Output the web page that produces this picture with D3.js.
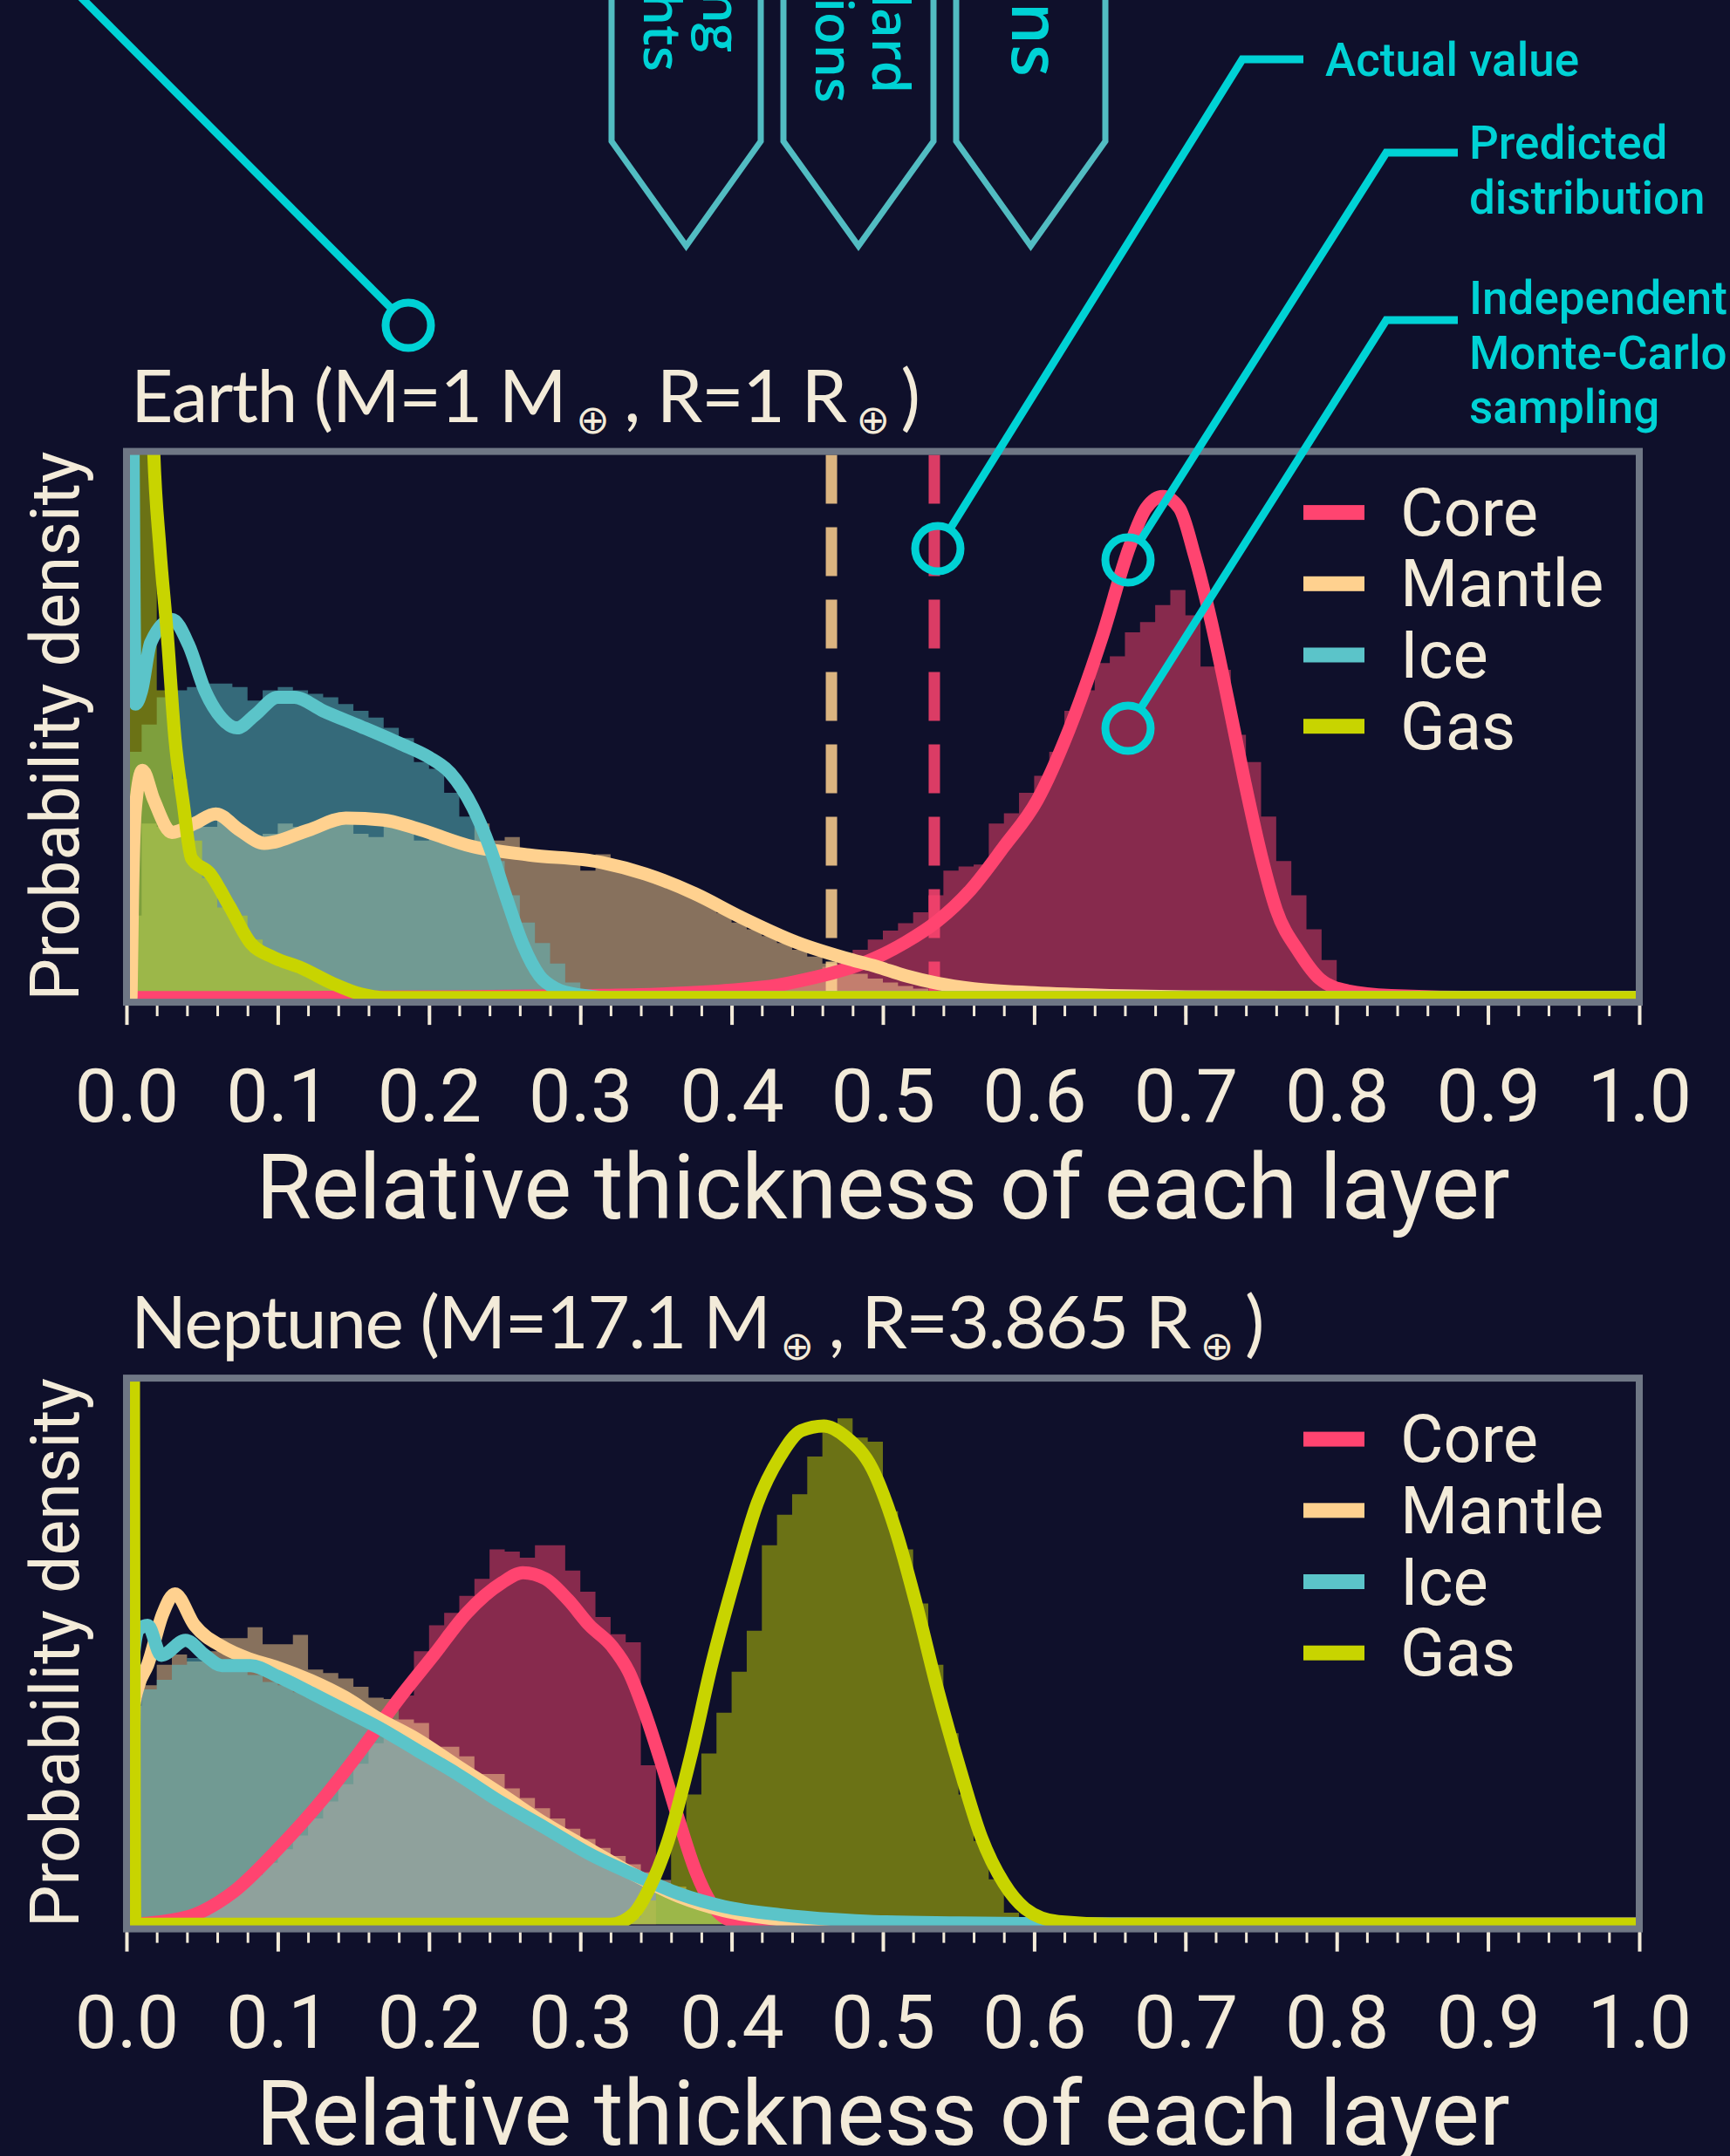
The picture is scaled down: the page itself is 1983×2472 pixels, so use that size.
<!DOCTYPE html>
<html>
<head>
<meta charset="utf-8">
<script src="https://cdnjs.cloudflare.com/ajax/libs/d3/7.8.5/d3.min.js"></script>
<style>
  html, body { margin: 0; padding: 0; background: #0f102b; }
  svg { display: block; }
</style>
</head>
<body>
<div id="chart"></div>
<script>
// ---- data --------------------------------------------------------------
var layers = ['Core', 'Mantle', 'Ice', 'Gas'];
var layerColors = ['#ff4470', '#ffd18f', '#5bc4c9', '#c8d400'];
var xTickValues = [0, 0.1, 0.2, 0.3, 0.4, 0.5, 0.6, 0.7, 0.8, 0.9, 1.0];
var binWidth = 0.01;

var planetNames = ['Earth', 'Neptune'];
var planetMass = ['1', '17.1'];
var planetRadius = ['1', '3.865'];

// actual values (dashed), Earth only: [core, mantle]
var earthActual = [0.534, 0.466];

// histograms: first bin start + bin heights
var earthCoreStart = 0.30;
var earthCoreHist = [0.02, 0.03, 0.03, 0.04, 0.05, 0.05, 0.06, 0.07, 0.08, 0.09,
  0.10, 0.13, 0.17, 0.22, 0.28, 0.36, 0.45, 0.58, 0.70, 0.85,
  0.98, 1.09, 1.25, 1.50, 1.86, 1.92, 1.95, 2.55, 2.70, 3.00,
  3.25, 3.60, 4.20, 4.50, 4.90, 5.00, 5.35, 5.50, 5.75, 5.97,
  5.60, 4.85, 4.80, 3.85, 3.45, 2.65, 2.00, 1.50, 1.00, 0.55,
  0.15, 0.05];
var earthMantleStart = 0.0;
var earthMantleHist = [1.2, 2.55, 2.5, 2.45, 2.55, 2.5, 2.6, 2.45, 2.3, 2.4,
  2.55, 2.5, 2.55, 2.6, 2.55, 2.4, 2.35, 2.55, 2.5, 2.3,
  2.4, 2.35, 2.3, 2.55, 2.3, 2.35, 2.1, 2.15, 2.1, 2.05,
  1.86, 2.1, 1.95, 1.85, 1.8, 1.7, 1.6, 1.5, 1.38, 1.24,
  1.1, 1.0, 0.9, 0.8, 0.7, 0.6, 0.5, 0.42, 0.35, 0.28,
  0.22, 0.17, 0.13, 0.1, 0.07, 0.05, 0.04, 0.03, 0.02, 0.01];
var earthIceStart = 0.0;
var earthIceHist = [3.6, 4.0, 4.4, 4.5, 4.55, 4.6, 4.6, 4.55, 4.35, 4.5,
  4.55, 4.5, 4.45, 4.4, 4.3, 4.2, 4.1, 3.95, 3.8, 3.45,
  3.35, 3.0, 2.65, 2.5, 2.0, 1.5, 1.1, 0.8, 0.5, 0.22, 0.05];
var earthGasStart = 0.0;
var earthGasHist = [9, 9, 4.5, 3.2, 2.3, 1.75, 1.32, 1.2, 0.85, 0.6,
  0.45, 0.38, 0.3, 0.22, 0.15, 0.08, 0.04, 0.02];

var neptuneCoreStart = 0.01;
var neptuneCoreHist = [0.02, 0.05, 0.1, 0.18, 0.28, 0.4, 0.55, 0.72, 0.9, 1.1,
  1.3, 1.55, 1.8, 2.05, 2.35, 2.65, 3.0, 3.35, 4.0, 4.38,
  4.56, 4.81, 5.06, 5.49, 5.46, 5.37, 5.55, 5.55, 5.18, 4.87,
  4.5, 4.25, 4.13, 2.33];
var neptuneMantleStart = 0.0;
var neptuneMantleHist = [3.2, 3.5, 3.8, 3.95, 3.85, 4.0, 4.19, 4.19, 4.35, 4.1,
  4.1, 4.24, 3.73, 3.68, 3.6, 3.48, 3.32, 3.3, 3.0, 2.95,
  2.6, 2.6, 2.46, 2.2, 2.2, 1.99, 1.85, 1.7, 1.55, 1.4,
  1.25, 1.12, 1.0, 0.88, 0.76, 0.65, 0.55, 0.45, 0.37, 0.3,
  0.24, 0.18, 0.14, 0.1, 0.07, 0.05, 0.03, 0.02, 0.01];
var neptuneIceStart = 0.0;
var neptuneIceHist = [3.3, 3.44, 3.58, 3.8, 3.9, 3.85, 3.75, 3.7, 3.65, 3.55,
  3.5, 3.4, 3.3, 3.2, 3.1, 3.0, 2.9, 2.75, 2.6, 2.5,
  2.4, 2.25, 2.1, 1.95, 1.85, 1.7, 1.6, 1.45, 1.35, 1.2,
  1.1, 0.98, 0.88, 0.78, 0.68, 0.6, 0.5, 0.43, 0.36, 0.3,
  0.25, 0.2, 0.17, 0.14, 0.12, 0.1, 0.08, 0.07, 0.06, 0.05,
  0.04, 0.035, 0.03, 0.025, 0.02, 0.02, 0.015, 0.01, 0.01];
var neptuneGasStart = 0.33;
var neptuneGasHist = [0.1, 0.35, 0.6, 1.34, 1.9, 2.5, 3.1, 3.7, 4.3, 5.55,
  6.0, 6.3, 6.85, 7.29, 7.41, 7.13, 7.07, 6.05, 5.49, 4.7,
  3.8, 2.8, 1.9, 1.22, 0.66, 0.17, 0.03];

// predicted densities [x, density]
var earthCoreLine = [[0.005, 0], [0.1, 0], [0.2, 0.01], [0.3, 0.03], [0.35, 0.05], [0.4, 0.11],
  [0.43, 0.18], [0.45, 0.27], [0.47, 0.38], [0.483, 0.47], [0.495, 0.58], [0.515, 0.81],
  [0.536, 1.12], [0.558, 1.58], [0.58, 2.21], [0.602, 2.89], [0.623, 3.92], [0.645, 5.29],
  [0.663, 6.6], [0.674, 7.17], [0.685, 7.34], [0.696, 7.17], [0.706, 6.48], [0.717, 5.51],
  [0.728, 4.37], [0.739, 3.18], [0.75, 2.09], [0.76, 1.29], [0.775, 0.67], [0.789, 0.27],
  [0.807, 0.1], [0.836, 0.03], [0.9, 0], [1.0, 0]];
var earthMantleLine = [[0.003, 0], [0.004, 1.5], [0.006, 2.8], [0.0106, 3.33], [0.018, 2.9],
  [0.03, 2.42], [0.045, 2.55], [0.059, 2.69], [0.075, 2.45], [0.091, 2.26], [0.12, 2.45],
  [0.145, 2.63], [0.17, 2.6], [0.19, 2.49], [0.229, 2.21], [0.266, 2.09], [0.314, 1.98],
  [0.343, 1.81], [0.376, 1.52], [0.406, 1.18], [0.443, 0.81], [0.48, 0.55], [0.495, 0.46],
  [0.515, 0.32], [0.536, 0.21], [0.56, 0.13], [0.6, 0.07], [0.65, 0.03], [0.7, 0.01],
  [0.8, 0], [1.0, 0]];
var earthIceLine = [[0.004, 9.5], [0.006, 4.3], [0.01, 4.5], [0.016, 5.2], [0.03, 5.54],
  [0.041, 5.17], [0.052, 4.49], [0.063, 4.09], [0.073, 3.95], [0.085, 4.14], [0.1, 4.4],
  [0.111, 4.4], [0.13, 4.2], [0.155, 3.97], [0.181, 3.72], [0.2, 3.52], [0.214, 3.29],
  [0.229, 2.78], [0.24, 2.21], [0.251, 1.47], [0.262, 0.78], [0.273, 0.32], [0.284, 0.13],
  [0.299, 0.04], [0.321, 0], [1.0, 0]];
var earthGasLine = [[0.012, 14], [0.018, 8], [0.022, 6.6], [0.027, 5.3], [0.032, 3.8],
  [0.0375, 2.85], [0.043, 2.04], [0.055, 1.82], [0.068, 1.34], [0.082, 0.8], [0.097, 0.59],
  [0.116, 0.43], [0.136, 0.21], [0.155, 0.05], [0.17, 0], [1.0, 0]];

var neptuneCoreLine = [[0.004, 0], [0.02, 0.03], [0.045, 0.14], [0.071, 0.48], [0.1, 1.1],
  [0.13, 1.84], [0.155, 2.55], [0.181, 3.33], [0.203, 3.94], [0.225, 4.56], [0.248, 5.0],
  [0.262, 5.15], [0.277, 5.06], [0.292, 4.75], [0.306, 4.38], [0.321, 4.07], [0.332, 3.7],
  [0.343, 3.08], [0.354, 2.33], [0.365, 1.53], [0.376, 0.79], [0.387, 0.29], [0.402, 0.04],
  [0.424, 0], [1.0, 0]];
var neptuneMantleLine = [[0.004, 0], [0.005, 3.2], [0.008, 3.5], [0.014, 3.8], [0.024, 4.55],
  [0.032, 4.84], [0.045, 4.38], [0.063, 4.07], [0.082, 3.88], [0.1, 3.76], [0.122, 3.57],
  [0.144, 3.33], [0.166, 3.02], [0.192, 2.71], [0.218, 2.33], [0.248, 1.9], [0.277, 1.47],
  [0.306, 1.1], [0.336, 0.72], [0.365, 0.41], [0.395, 0.2], [0.432, 0.07], [0.468, 0.01],
  [0.52, 0], [1.0, 0]];
var neptuneIceLine = [[0.004, 0], [0.005, 4.0], [0.008, 4.32], [0.014, 4.38], [0.023, 3.94],
  [0.039, 4.16], [0.052, 3.94], [0.063, 3.79], [0.082, 3.79], [0.1, 3.63], [0.122, 3.39],
  [0.144, 3.14], [0.166, 2.89], [0.192, 2.55], [0.218, 2.21], [0.248, 1.78], [0.277, 1.41],
  [0.306, 1.03], [0.336, 0.72], [0.365, 0.45], [0.395, 0.26], [0.432, 0.14], [0.468, 0.07],
  [0.494, 0.04], [0.55, 0.02], [0.62, 0.005], [0.7, 0], [1.0, 0]];
var neptuneGasLine = [[0.0045, 9.5], [0.0055, 0], [0.32, 0], [0.335, 0.15], [0.345, 0.5],
  [0.358, 1.22], [0.373, 2.46], [0.387, 3.82], [0.402, 5.06], [0.417, 6.17], [0.432, 6.85],
  [0.446, 7.23], [0.461, 7.3], [0.476, 7.13], [0.493, 6.67], [0.508, 5.8], [0.522, 4.69],
  [0.536, 3.45], [0.551, 2.27], [0.565, 1.28], [0.58, 0.6], [0.594, 0.23], [0.616, 0.04],
  [0.656, 0], [1.0, 0]];

// ---- layout -------------------------------------------------------------
var W = 1983, H = 2472;
var bg = '#0f102b';
var cream = '#f3ebd9';
var frameColor = '#6f7785';
var cyan = '#00d2d5';
var boxColor = '#52bcc2';

var svg = d3.select('#chart').append('svg')
  .attr('width', W)
  .attr('height', H)

svg.append('rect')
  .attr('width', W)
  .attr('height', H)
  .attr('fill', bg)

var x = d3.scaleLinear().domain([0, 1]).range([145, 1879]);

function histPoints(start, values) {
  var pts = values.map(function(v, i) { return [start + i * binWidth, v]; });
  pts.push([start + values.length * binWidth, values[values.length - 1]]);
  return pts;
}

function drawPanel(idx, top, hists, lines, actual) {
  var zeroY = top + 626.2;
  var y = d3.scaleLinear().domain([0, 8]).range([zeroY, top]);
  var frameH = 631.5;
  var g = svg.append('g');

  g.append('clipPath').attr('id', 'clip' + idx)
    .append('rect')
    .attr('x', x(0)).attr('y', top)
    .attr('width', x(1) - x(0)).attr('height', frameH);

  var plot = g.append('g').attr('clip-path', 'url(#clip' + idx + ')');

  var area = d3.area()
    .x(function(d) { return x(d[0]); })
    .y0(zeroY)
    .y1(function(d) { return y(d[1]); })
    .curve(d3.curveStepAfter);

  hists.forEach(function(h, i) {
    plot.append('path')
      .attr('d', area(histPoints(h[0], h[1])))
      .attr('fill', layerColors[i])
      .attr('fill-opacity', 0.5);
  });

  if (actual) {
    actual.forEach(function(v, i) {
      plot.append('line')
        .attr('x1', x(v)).attr('x2', x(v))
        .attr('y1', top + 4).attr('y2', zeroY)
        .attr('stroke', layerColors[i])
        .attr('stroke-opacity', 0.85)
        .attr('stroke-width', 13)
        .attr('stroke-dasharray', '56,27');
    });
  }

  var line = d3.line()
    .x(function(d) { return x(d[0]); })
    .y(function(d) { return y(d[1]); })
    .curve(d3.curveMonotoneX);

  lines.forEach(function(l, i) {
    plot.append('path')
      .attr('d', line(l))
      .attr('fill', 'none')
      .attr('stroke', layerColors[i])
      .attr('stroke-width', 15)
      .attr('stroke-linejoin', 'round')
      .attr('stroke-linecap', 'round');
  });

  // frame
  g.append('rect')
    .attr('x', x(0)).attr('y', top)
    .attr('width', x(1) - x(0)).attr('height', frameH)
    .attr('fill', 'none')
    .attr('stroke', frameColor)
    .attr('stroke-width', 8);

  // axis (minor ticks first, no labels)
  var axisY = top + frameH + 4;
  var minor = g.append('g')
    .attr('transform', 'translate(0,' + axisY + ')')
    .call(d3.axisBottom(x).tickValues(d3.range(0, 1.001, 0.02)).tickSize(12).tickFormat(''));
  minor.select('.domain').remove();
  minor.selectAll('text').remove();
  minor.selectAll('line').attr('stroke', cream).attr('stroke-width', 3);

  var major = g.append('g')
    .attr('transform', 'translate(0,' + axisY + ')')
    .call(d3.axisBottom(x).tickValues(xTickValues).tickSize(22).tickFormat(d3.format('.1f')));
  major.select('.domain').remove();
  major.selectAll('line').attr('stroke', cream).attr('stroke-width', 4);
  major.selectAll('text')
    .attr('y', 1286 - 1153.1)
    .attr('dy', null)
    .attr('fill', cream)
    .attr('font-family', 'Roboto, sans-serif')
    .attr('font-size', 86);

  // axis titles
  g.append('text')
    .attr('x', (x(0) + x(1)) / 2)
    .attr('y', top + 879)
    .attr('text-anchor', 'middle')
    .attr('fill', cream)
    .attr('font-family', 'Roboto, sans-serif')
    .attr('font-size', 103)
    .text('Relative thickness of each layer');

  g.append('text')
    .attr('transform', 'translate(90,' + (top + 315) + ') rotate(-90)')
    .attr('text-anchor', 'middle')
    .attr('fill', cream)
    .attr('font-family', 'Roboto, sans-serif')
    .attr('font-size', 77)
    .text('Probability density');

  // panel title
  var t = g.append('text')
    .attr('x', 150)
    .attr('y', top - 34)
    .attr('fill', cream)
    .attr('font-family', 'Lato, sans-serif')
    .attr('font-weight', 400)
    .attr('font-size', 84)
    .attr('letter-spacing', -1.5);
  t.append('tspan').text(planetNames[idx] + ' (M=' + planetMass[idx] + ' M');
  t.append('tspan').attr('font-family', 'DejaVu Sans, sans-serif').attr('font-size', 46)
    .attr('dx', 12).attr('dy', 13).text('⊕');
  t.append('tspan').attr('dx', 18).attr('dy', -13).text(', R=' + planetRadius[idx] + ' R');
  t.append('tspan').attr('font-family', 'DejaVu Sans, sans-serif').attr('font-size', 46)
    .attr('dx', 12).attr('dy', 13).text('⊕');
  t.append('tspan').attr('dx', 14).attr('dy', -13).text(')');

  // legend
  var leg = g.append('g');
  layers.forEach(function(name, i) {
    var cy = top + 70 + i * 81.7;
    leg.append('rect')
      .attr('x', 1494).attr('y', cy - 8.5)
      .attr('width', 70).attr('height', 17)
      .attr('fill', layerColors[i]);
    leg.append('text')
      .attr('x', 1605).attr('y', cy + 26)
      .attr('fill', cream)
      .attr('font-family', 'Roboto, sans-serif')
      .attr('font-size', 76)
      .text(name);
  });
}

drawPanel(0, 517.6,
  [[earthCoreStart, earthCoreHist], [earthMantleStart, earthMantleHist],
   [earthIceStart, earthIceHist], [earthGasStart, earthGasHist]],
  [earthCoreLine, earthMantleLine, earthIceLine, earthGasLine],
  earthActual);

drawPanel(1, 1580.1,
  [[neptuneCoreStart, neptuneCoreHist], [neptuneMantleStart, neptuneMantleHist],
   [neptuneIceStart, neptuneIceHist], [neptuneGasStart, neptuneGasHist]],
  [neptuneCoreLine, neptuneMantleLine, neptuneIceLine, neptuneGasLine],
  null);

// ---- annotations ----------------------------------------------------------
var ann = svg.append('g');

// output boxes (partly cut at the top)
var boxes = [[701, 872], [898, 1070], [1096, 1267]];
boxes.forEach(function(b) {
  var mid = (b[0] + b[1]) / 2;
  ann.append('path')
    .attr('d', 'M' + b[0] + ',-10 L' + b[0] + ',162 L' + mid + ',282 L' + b[1] + ',162 L' + b[1] + ',-10')
    .attr('fill', 'none')
    .attr('stroke', boxColor)
    .attr('stroke-width', 7);
});

var boxText = [
  ['Mixing', 806, 60, 60], ['weights', 738, 82, 60],
  ['Standard', 1000, 107, 60], ['deviations', 935, 118, 60],
  ['Means', 1160, 88, 76]
];
boxText.forEach(function(d) {
  ann.append('text')
    .attr('transform', 'translate(' + d[1] + ',' + d[2] + ') rotate(90)')
    .attr('text-anchor', 'end')
    .attr('fill', cyan)
    .attr('font-family', 'Open Sans, sans-serif')
    .attr('font-weight', 600)
    .attr('font-size', d[3])
    .text(d[0]);
});

function pointer(pts, cx, cy) {
  var r = 26;
  var last = pts[pts.length - 1];
  var dx = cx - last[0], dy = cy - last[1];
  var len = Math.sqrt(dx * dx + dy * dy);
  var end = [cx - dx / len * r, cy - dy / len * r];
  ann.append('path')
    .attr('d', d3.line()(pts.concat([end])))
    .attr('fill', 'none')
    .attr('stroke', cyan)
    .attr('stroke-width', 9);
  ann.append('circle')
    .attr('cx', cx).attr('cy', cy).attr('r', r)
    .attr('fill', 'none')
    .attr('stroke', cyan)
    .attr('stroke-width', 9);
}

pointer([[92, -4]], 468, 373);
pointer([[1494, 68], [1424, 68]], 1075, 629);
pointer([[1671, 175], [1589, 175]], 1293, 642);
pointer([[1671, 367], [1589, 367]], 1293, 835);

var labels = [
  ['Actual value', 1519, 87],
  ['Predicted', 1684, 182], ['distribution', 1684, 245],
  ['Independent', 1684, 360], ['Monte-Carlo', 1684, 423], ['sampling', 1684, 485]
];
labels.forEach(function(d) {
  ann.append('text')
    .attr('x', d[1]).attr('y', d[2])
    .attr('fill', cyan)
    .attr('font-family', 'Roboto, sans-serif')
    .attr('font-weight', 500)
    .attr('font-size', 53)
    .text(d[0]);
});
</script>
</body>
</html>
